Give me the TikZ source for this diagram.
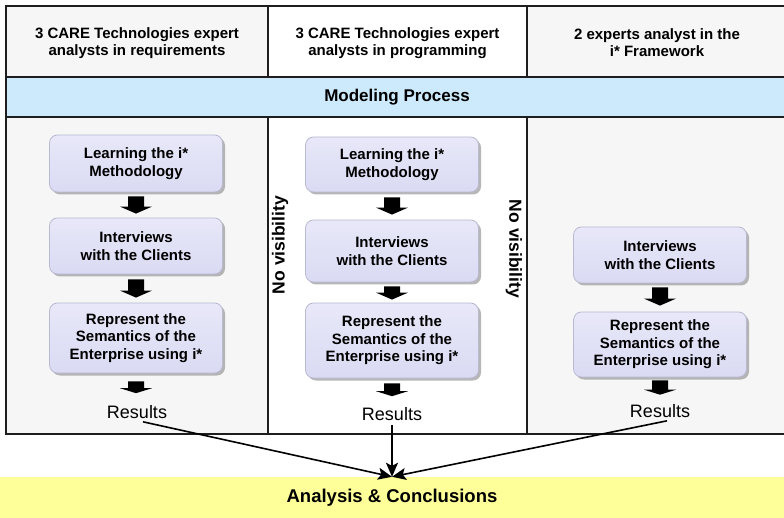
\documentclass[tikz,border=0pt]{standalone}
\usepackage{fontspec}
\setmainfont{Liberation Sans}
\usetikzlibrary{arrows.meta,shadows}
\definecolor{cellgray}{RGB}{246,246,246}
\definecolor{bandblue}{RGB}{204,234,252}
\definecolor{acyellow}{RGB}{255,255,153}
\definecolor{boxtop}{RGB}{232,232,249}
\definecolor{boxbot}{RGB}{218,218,243}
\definecolor{boxline}{RGB}{185,185,210}
\definecolor{gridline}{RGB}{30,30,30}
% block arrow from node #1 (south) to node #2 (north); #3/#4 gaps, #5 head length
\newcommand{\blockarr}[5]{%
  \path (#1.south) ++(0,#3) coordinate (ba1);
  \path (#1.south |- #2.north) ++(0,-#4) coordinate (ba2);
  \fill[black] ([xshift=-8pt]ba1) -- ([xshift=8pt]ba1) -- ([xshift=8pt,yshift=#5]ba2)
    -- ([xshift=16pt,yshift=#5]ba2) -- (ba2) -- ([xshift=-16pt,yshift=#5]ba2)
    -- ([xshift=-8pt,yshift=#5]ba2) -- cycle;}
\begin{document}
\begin{tikzpicture}[x=1pt,y=-1pt,
  hdr/.style={inner sep=0pt, align=center, font=\bfseries\fontsize{15}{17}\selectfont},
  box/.style={rounded corners=8pt, draw=boxline, line width=0.8pt,
    top color=boxtop, bottom color=boxbot, minimum width=173pt, inner sep=0pt,
    align=center, font=\bfseries\fontsize{15}{17.5}\selectfont,
    drop shadow={shadow xshift=2.5pt, shadow yshift=-2.5pt, fill=black!40, opacity=0.7}},
  res/.style={inner sep=0pt, font=\fontsize{18}{20}\selectfont},
  novis/.style={inner sep=0pt, font=\bfseries\fontsize{17.5}{19}\selectfont},
  grid/.style={draw=gridline, line width=1.8pt},
  conn/.style={draw=black, line width=1.6pt, -{Stealth[length=14pt,width=12pt,inset=3pt]}}]
\useasboundingbox (0,0) rectangle (784,518);
% cell fills
\fill[cellgray] (6,6) rectangle (268,77);
\fill[white] (268,6) rectangle (527,77);
\fill[cellgray] (527,6) rectangle (786,77);
\fill[bandblue] (6,77) rectangle (786,117);
\fill[cellgray] (6,117) rectangle (268,434);
\fill[white] (268,117) rectangle (527,434);
\fill[cellgray] (527,117) rectangle (786,434);
% grid
\draw[grid] (6,6) rectangle (787,434);
\draw[grid] (6,77) -- (787,77) (6,117) -- (787,117);
\draw[grid] (268,6) -- (268,77) (527,6) -- (527,77) (268,117) -- (268,434) (527,117) -- (527,434);
% header texts
\node[hdr] (h1) at (137,43) {3 CARE Technologies expert\\analysts in requirements};
\node[hdr] (h2) at (397.5,43) {3 CARE Technologies expert\\analysts in programming};
\node[hdr] (h3) at (657,43) {2 experts analyst in the\\i* Framework};
\node[inner sep=0pt, font=\bfseries\fontsize{17}{19}\selectfont] (mp) at (397,97) {Modeling Process};
% column 1
\node[box, minimum height=57pt] (b11) at (136,163.5) {Learning the i*\\Methodology};
\node[box, minimum height=56pt] (b12) at (136,246) {Interviews\\with the Clients};
\node[box, minimum height=70pt] (b13) at (136,338) {Represent the\\Semantics of the\\Enterprise using i*};
\node[res] (r1) at (137,412) {Results};
% column 2
\node[box, minimum height=55pt] (b21) at (392,164.5) {Learning the i*\\Methodology};
\node[box, minimum height=62pt] (b22) at (392,251) {Interviews\\with the Clients};
\node[box, minimum height=75pt] (b23) at (392,340.5) {Represent the\\Semantics of the\\Enterprise using i*};
\node[res] (r2) at (392,414) {Results};
% column 3
\node[box, minimum height=56pt] (b32) at (660,255) {Interviews\\with the Clients};
\node[box, minimum height=65pt] (b33) at (660,344.5) {Represent the\\Semantics of the\\Enterprise using i*};
\node[res] (r3) at (660,411) {Results};
% no visibility
\node[novis, rotate=90] (nv1) at (280,245) {No visibility};
\node[novis, rotate=-90] (nv2) at (514,249) {No visibility};
% block arrows
\blockarr{b11}{b12}{4}{4}{7pt}
\blockarr{b12}{b13}{5}{5}{7pt}
\blockarr{b13}{r1}{8}{12}{5pt}
\blockarr{b21}{b22}{5}{5}{7pt}
\blockarr{b22}{b23}{4}{3}{7pt}
\blockarr{b23}{r2}{5}{11}{5pt}
\blockarr{b32}{b33}{4}{6}{7pt}
\blockarr{b33}{r3}{3}{9.5}{5pt}
% analysis
\node[fill=acyellow, minimum width=784pt, minimum height=41pt, inner sep=0pt,
  font=\bfseries\fontsize{18.5}{20}\selectfont] (ac) at (392,497.5) {Analysis \& Conclusions};
\draw[conn] ([xshift=6pt,yshift=-3pt]r1.south) -- (ac.north);
\draw[conn] ([yshift=-4pt]r2.south) -- (ac.north);
\draw[conn] ([xshift=7pt,yshift=-3pt]r3.south) -- (ac.north);
\end{tikzpicture}
\end{document}
